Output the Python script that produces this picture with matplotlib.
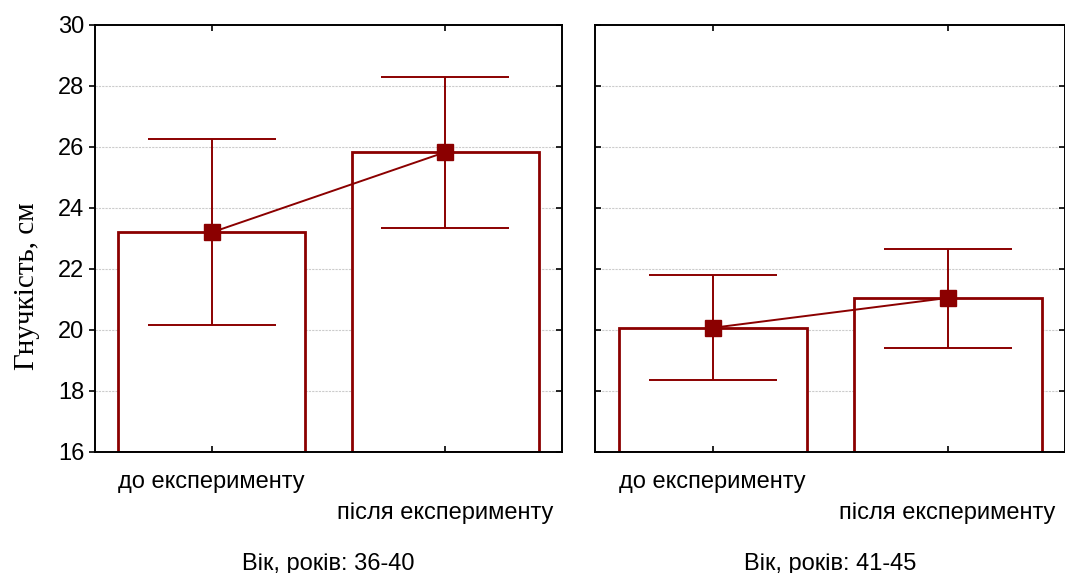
import numpy as np
import matplotlib
matplotlib.use('Agg')
from matplotlib import pyplot as plt

# дані
stages = ['до експерименту', 'після експерименту']
groups = ['Вік, років: 36-40', 'Вік, років: 41-45']
means = [[23.2, 25.83], [20.07, 21.05]]
lower = [[20.15, 23.35], [18.35, 19.42]]
upper = [[26.25, 28.3], [21.8, 22.65]]
yticks = [16, 18, 20, 22, 24, 26, 28, 30]

red = '#8b0000'
plt.rcParams['font.family'] = ['Liberation Sans', 'DejaVu Sans']

fig = plt.figure(figsize=(10.65, 5.73), dpi=100)
axes = [fig.add_axes([0.0892, 0.2112, 0.4385, 0.7452]),
        fig.add_axes([0.5587, 0.2112, 0.4413, 0.7452])]

x = np.arange(len(stages))
for i, ax in enumerate(axes):
    m = np.array(means[i])
    lo = m - np.array(lower[i])
    hi = np.array(upper[i]) - m
    # сітка під стовпчиками
    for yt in yticks[1:-1]:
        ax.axhline(yt, color='#cccccc', linestyle=(0, (2, 1)),
                   linewidth=0.8, zorder=0.5)
    ax.bar(x, m - 16, bottom=16, width=0.8, facecolor='white',
           edgecolor=red, linewidth=2.0, zorder=1)
    ax.errorbar(x, m, yerr=[lo, hi], fmt='none', ecolor=red,
                elinewidth=1.4, capsize=46, capthick=1.4, zorder=3)
    ax.plot(x, m, color=red, linewidth=1.4, marker='s', markersize=11,
            zorder=4)

    ax.set_xlim(-0.5, 1.5)
    ax.set_ylim(16, 30)
    ax.set_yticks(yticks)
    ax.set_xticks(x)
    ax.set_xticklabels(stages, fontsize=17)
    for s in ax.spines.values():
        s.set_linewidth(1.4)
    ax.tick_params(axis='x', direction='in', length=4, width=1.2,
                   top=True, pad=14)
    ax.tick_params(axis='y', direction='in', length=4, width=1.2,
                   right=True, labelsize=17)
    ax.xaxis.get_major_ticks()[1].set_pad(36)
    ax.set_xlabel(groups[i], fontsize=17)
    ax.xaxis.set_label_coords(0.5, -0.236)
    if i == 0:
        ax.tick_params(axis='y', direction='out', length=4, right=False)
        ax.set_ylabel('Гнучкість, см', fontsize=21,
                      family=['Liberation Serif', 'DejaVu Serif'])
        ax.yaxis.set_label_coords(-0.118, 0.389)
        # внутрішні мітки праворуч
        ax2 = ax.twinx()
        ax2.set_ylim(16, 30)
        ax2.set_yticks(yticks)
        ax2.set_yticklabels([])
        ax2.tick_params(axis='y', direction='in', length=4, width=1.2)
        for s in ax2.spines.values():
            s.set_visible(False)
    else:
        ax.set_yticklabels([])

fig.savefig('out.png', dpi=100)
